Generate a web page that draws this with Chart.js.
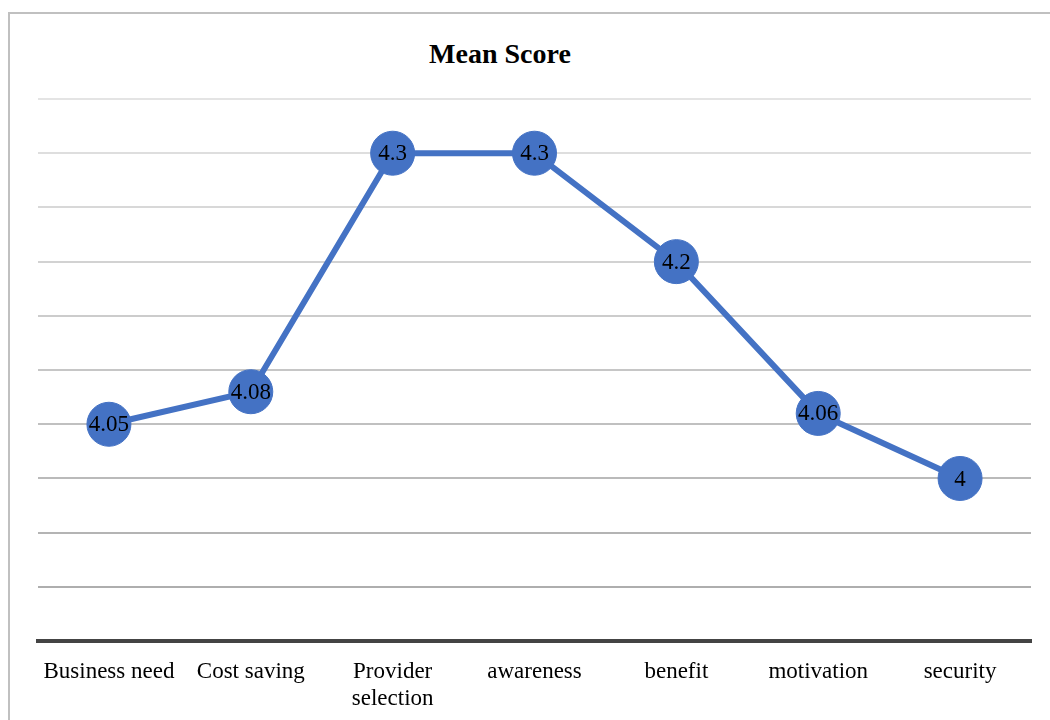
<!DOCTYPE html>
<html>
<head>
<meta charset="utf-8">
<script src="https://cdn.jsdelivr.net/npm/chart.js@4.4.0/dist/chart.umd.min.js"></script>
<style>
  html, body { margin: 0; padding: 0; background: #fff; overflow: hidden; }
  #wrap { position: relative; width: 1050px; height: 720px; }
  #frame {
    position: absolute; left: 8px; top: 12px; width: 1100px; height: 800px;
    border: 2px solid #c0c0c0; box-sizing: border-box;
  }
  #title {
    position: absolute; left: 0; top: 38px; width: 1000px; text-align: center;
    font: bold 28px "Liberation Serif", "Times New Roman", serif; line-height: 32px;
    color: #000;
  }
  canvas { position: absolute; left: 0; top: 0; }
</style>
</head>
<body>
<div id="wrap">
  <div id="frame"></div>
  <div id="title">Mean Score</div>
  <canvas id="chart" width="1050" height="720"></canvas>
</div>
<script>
const categories = [
  "Business need",
  "Cost saving",
  ["Provider", "selection"],
  "awareness",
  "benefit",
  "motivation",
  "security",
];
const meanScores = [4.05, 4.08, 4.3, 4.3, 4.2, 4.06, 4];
const yMin = 3.85;
const yMax = 4.35;
const yStep = 0.05;

const serif = '"Liberation Serif", "Times New Roman", serif';
const blue = "#4472C4";

// value labels drawn in the middle of each marker
const pointLabels = {
  id: "pointLabels",
  afterDatasetsDraw(chart) {
    const ctx = chart.ctx;
    const meta = chart.getDatasetMeta(0);
    ctx.save();
    ctx.font = `23px ${serif}`;
    ctx.fillStyle = "#000";
    ctx.textAlign = "center";
    ctx.textBaseline = "middle";
    meta.data.forEach((pt, i) => {
      ctx.fillText(String(meanScores[i]), pt.x, pt.y + 1);
    });
    ctx.restore();
  },
};

// gridlines fade a little lighter toward the top
function gridColor(c) {
  const n = 10;
  const t = Math.min(c.index, n) / n;
  const v = Math.round(0xa8 + (0xe4 - 0xa8) * t);
  return `rgb(${v},${v},${v})`;
}

new Chart(document.getElementById("chart"), {
  type: "line",
  data: {
    labels: categories,
    datasets: [
      {
        label: "Mean Score",
        data: meanScores,
        borderColor: blue,
        backgroundColor: blue,
        borderWidth: 6,
        pointRadius: 22,
        pointHoverRadius: 22,
        pointBorderWidth: 1,
        pointBackgroundColor: blue,
        pointBorderColor: blue,
        tension: 0,
        clip: false,
      },
    ],
  },
  options: {
    responsive: false,
    animation: false,
    layout: { autoPadding: false, padding: { left: 38, right: 19, top: 99, bottom: -10 } },
    plugins: {
      legend: { display: false },
      title: { display: false },
      tooltip: { enabled: false },
    },
    scales: {
      x: {
        offset: true,
        grid: { display: false, drawTicks: false },
        border: { display: true, color: "#444", width: 4 },
        ticks: {
          color: "#000",
          padding: 18,
          maxRotation: 0,
          autoSkip: false,
          font: { family: serif, size: 23, lineHeight: 1.15 },
        },
      },
      y: {
        min: yMin,
        max: yMax,
        grid: { color: gridColor, lineWidth: 2, drawTicks: false },
        border: { display: false },
        ticks: { display: false, stepSize: yStep },
      },
    },
  },
  plugins: [pointLabels],
});
</script>
</body>
</html>
